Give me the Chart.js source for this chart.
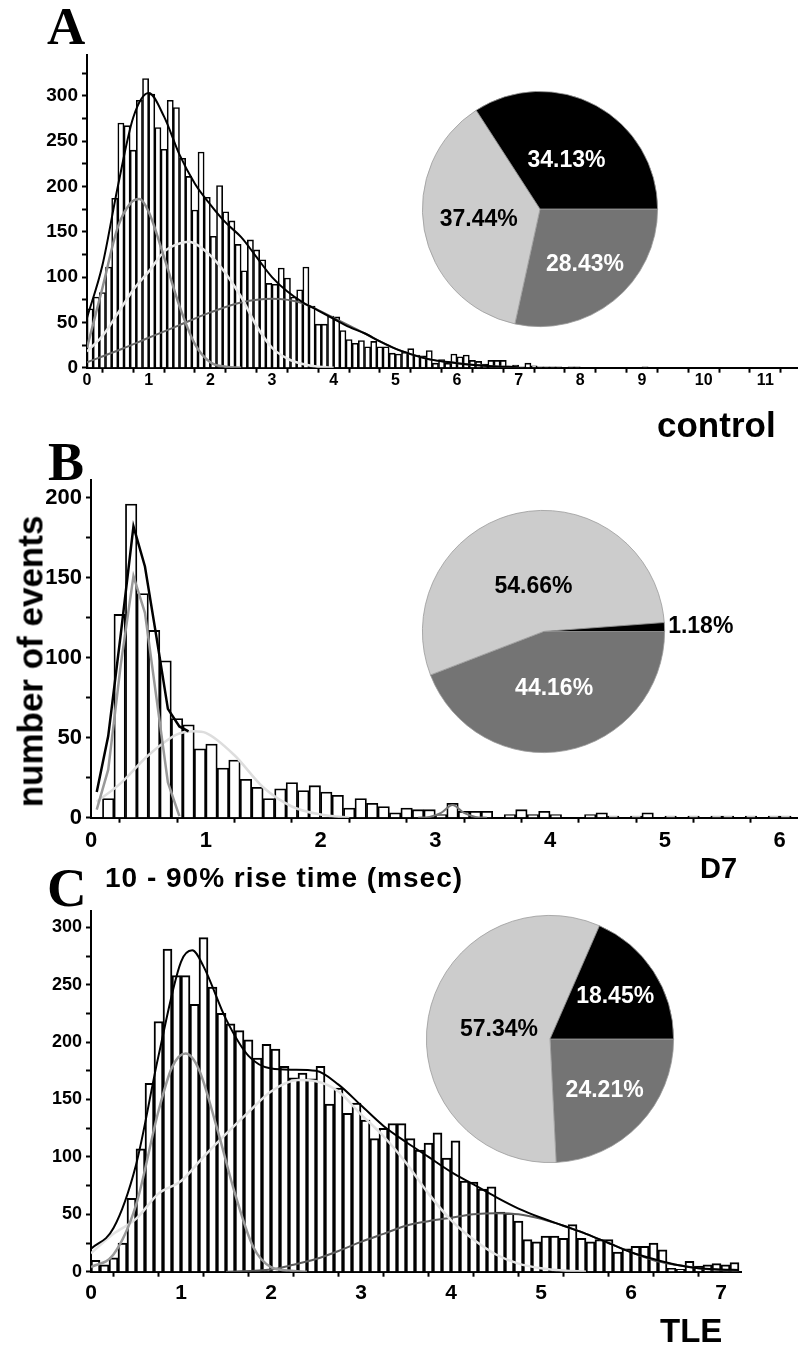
<!DOCTYPE html>
<html>
<head>
<meta charset="utf-8">
<script src="https://cdn.jsdelivr.net/npm/chart.js@4.4.1/dist/chart.umd.min.js"></script>
<style>
  html, body { margin: 0; padding: 0; background: #fff; }
  #page { position: relative; width: 798px; height: 1345px; overflow: hidden; }
  canvas { position: absolute; }
  .lbl { position: absolute; white-space: nowrap; line-height: 1; color: #000; font-weight: bold;
         font-family: "Liberation Sans", Arial, sans-serif; }
  .serif { font-family: "Liberation Serif", "Times New Roman", serif; }
</style>
</head>
<body>
<div id="page">
  <canvas id="histA"></canvas>
  <canvas id="histB"></canvas>
  <canvas id="histC"></canvas>
  <canvas id="pieA"></canvas>
  <canvas id="pieB"></canvas>
  <canvas id="pieC"></canvas>

  <div class="lbl serif" style="left:47px;top:0px;font-size:53px;">A</div>
  <div class="lbl serif" style="left:48px;top:435px;font-size:54px;">B</div>
  <div class="lbl serif" style="left:47px;top:860px;font-size:55px;">C</div>
  <div class="lbl" style="left:657px;top:407px;font-size:35px;">control</div>
  <div class="lbl" style="left:700px;top:854px;font-size:29px;">D7</div>
  <div class="lbl" style="left:660px;top:1314px;font-size:33px;">TLE</div>
  <div class="lbl" style="left:105px;top:864px;font-size:28px;letter-spacing:1px;">10 - 90% rise time (msec)</div>
  <div class="lbl" style="left:-120px;top:644px;width:300px;height:35px;line-height:35px;text-align:center;font-size:35px;transform:rotate(-90deg);">number of events</div>
</div>

<script>
// bin width of all three histograms (msec)
const BIN = 0.1;

// control: counts per 0.1 ms bin, starting at 0
const countsA = [65, 78, 83, 111, 187, 270, 267, 240, 295, 319,
  302, 265, 241, 295, 287, 231, 211, 174, 238, 188,
  145, 201, 172, 162, 136, 107, 141, 130, 119, 93,
  92, 110, 99, 78, 86, 111, 68, 48, 48, 57,
  56, 41, 31, 27, 30, 23, 29, 23, 23, 16,
  15, 17, 21, 14, 13, 19, 5, 9, 5, 15,
  12, 14, 8, 7, 4, 8, 8, 8, 1, 3,
  1, 5, 2, 1, 1, 1, 1, 0, 1, 1,
  0, 0, 0, 0, 0, 0, 0, 0, 0, 0, 1];

// D7
const countsB = [0, 12, 127, 196, 140, 117, 98, 62, 58, 43,
  46, 31, 36, 24, 19, 12, 18, 22, 17, 20,
  16, 14, 6, 12, 9, 7, 3, 6, 5, 5,
  2, 9, 4, 4, 4, 0, 2, 5, 2, 4,
  2, 0, 0, 2, 3, 1, 0, 1, 3, 0,
  1, 0, 1, 0, 1, 1, 0, 1, 0, 1, 1];

// TLE
const countsC = [10, 6, 12, 25, 64, 107, 164, 218, 281, 258,
  258, 233, 291, 248, 225, 216, 210, 202, 186, 198,
  194, 179, 169, 173, 168, 179, 146, 160, 138, 147,
  132, 116, 125, 129, 129, 116, 106, 112, 121, 99,
  114, 79, 78, 72, 74, 52, 51, 44, 28, 26,
  31, 31, 29, 41, 29, 26, 28, 28, 17, 20,
  22, 22, 25, 19, 3, 2, 9, 5, 6, 7,
  6, 8];

// fitted curves (x in msec, y in events)
const totalAx = [0, 0.25, 0.5, 0.75, 1.0, 1.25, 1.5, 1.75, 2.0, 2.25, 2.5, 2.75, 3.0, 3.25, 3.5, 3.75, 4.0, 4.25, 4.5, 4.75, 5.0, 5.25, 5.5, 5.75, 6.0, 6.5, 7.0];
const totalAy = [55, 113, 200, 276, 303, 277, 235, 203, 180, 160, 144, 122, 100, 84, 72, 63, 54, 45, 38, 29, 21, 15, 10, 7, 5, 2, 0.5];
const fastAx = [0, 0.25, 0.5, 0.7, 0.85, 1.0, 1.25, 1.5, 1.75, 2.0, 2.25, 2.5];
const fastAy = [22, 88, 155, 181, 186, 172, 122, 68, 26, 6, 1, 0];
const midAx = [0, 0.25, 0.5, 0.75, 1.0, 1.25, 1.5, 1.65, 1.75, 2.0, 2.25, 2.5, 2.75, 3.0, 3.25, 3.5, 3.75, 4.0];
const midAy = [18, 35, 60, 86, 106, 128, 137, 139, 137, 124, 104, 78, 46, 22, 10, 4, 1, 0];
const slowAx = [0, 0.5, 1.0, 1.5, 2.0, 2.5, 3.0, 3.5, 4.0, 4.5, 5.0, 5.5, 6.0, 6.5, 7.0];
const slowAy = [6, 19, 33, 47, 61, 72, 76, 71, 55, 38, 21, 10, 5, 2, 0.5];

const totalBx = [0.05, 0.15, 0.26, 0.37, 0.47, 0.57, 0.67, 0.77, 0.85];
const totalBy = [16, 51, 115, 182, 157, 113, 68, 57, 54];
const fastBx = [0.05, 0.15, 0.26, 0.37, 0.47, 0.57, 0.67, 0.77];
const fastBy = [5, 30, 96, 151, 128, 75, 22, 1];
const midBx = [0.05, 0.25, 0.5, 0.75, 0.9, 1.0, 1.25, 1.5, 1.75, 2.0, 2.25];
const midBy = [10, 21, 39, 52, 54, 53, 39, 19, 7, 2, 0];
const slowBx = [2.85, 2.95, 3.05, 3.15, 3.25, 3.35, 3.45];
const slowBy = [0, 0.5, 3, 8, 3, 0.5, 0];

const totalCx = [0, 0.25, 0.5, 0.75, 1.0, 1.125, 1.25, 1.5, 1.75, 2.0, 2.25, 2.5, 2.75, 3.0, 3.25, 3.5, 3.75, 4.0, 4.25, 4.5, 4.75, 5.0, 5.25, 5.5, 5.75, 6.0, 6.25, 6.5, 6.75, 7.0, 7.2];
const totalCy = [20, 38, 93, 188, 270, 280, 266, 220, 188, 177, 176, 175, 163, 145, 127, 113, 100, 87, 76, 65, 55, 47, 40, 33, 25, 17, 11, 6, 3, 2, 1.5];
const fastCx = [0, 0.25, 0.5, 0.75, 0.9, 1.05, 1.2, 1.4, 1.6, 1.8, 2.0, 2.2, 2.4];
const fastCy = [4, 15, 58, 140, 178, 190, 176, 125, 68, 22, 4, 1, 0];
const midCx = [0, 0.25, 0.5, 0.75, 1.0, 1.25, 1.5, 1.75, 2.0, 2.3, 2.5, 2.75, 3.0, 3.25, 3.5, 3.75, 4.0, 4.25, 4.5, 4.75, 5.0, 5.25, 5.5];
const midCy = [16, 33, 46, 68, 79, 100, 120, 139, 157, 167, 166, 157, 137, 118, 95, 68, 45, 28, 15, 7, 3, 1, 0];
const slowCx = [1.5, 2.0, 2.25, 2.5, 2.75, 3.0, 3.25, 3.5, 3.75, 4.0, 4.25, 4.5, 4.75, 5.0, 5.25, 5.5, 5.75, 6.0, 6.25, 6.5, 6.75, 7.0, 7.2];
const slowCy = [0, 2, 6, 11, 18, 26, 33, 40, 44, 47, 50, 51, 50, 46, 40, 33, 25, 17, 10, 6, 3, 1.5, 1];

// pie shares (%), order: dark gray, light gray, black
const pieAvals = [28.43, 37.44, 34.13];
const pieBvals = [44.16, 54.66, 1.18];
const pieCvals = [24.21, 57.34, 18.45];

const FONT = '"Liberation Sans", Arial, sans-serif';
const SLICE_COLORS = ['#747474', '#cccccc', '#000000'];

function bins(counts) { return counts.map((c, i) => ({ x: (i + 0.5) * BIN, y: c })); }
function pts(xs, ys) { return xs.map((x, i) => ({ x: x, y: ys[i] })); }
function onStep(v, step) { return Math.abs(v / step - Math.round(v / step)) < 1e-6; }
function stepTicks(max, step) {
  const t = [];
  for (let i = 0; i * step <= max + 1e-9; i++) t.push({ value: i * step });
  return t;
}

function place(el, left, top, w, h) {
  el.width = w; el.height = h;
  el.style.left = left + 'px'; el.style.top = top + 'px';
  el.style.width = w + 'px'; el.style.height = h + 'px';
}

function histogram(id, c) {
  const el = document.getElementById(id);
  place(el, 0, c.top, 798, c.h);
  const datasets = c.curves.map((cv, k) => ({
    type: 'line', data: cv.data, borderColor: cv.color, borderWidth: cv.width,
    pointRadius: 0, fill: false, tension: 0,
    cubicInterpolationMode: cv.straight ? 'default' : 'monotone', order: k + 1
  }));
  datasets.push({
    type: 'bar', data: c.bars, backgroundColor: '#ffffff', borderColor: '#000000',
    borderWidth: c.barBorder, barPercentage: 1, categoryPercentage: 1, order: 20
  });
  const axisGrid = { display: true, drawOnChartArea: false, drawTicks: true, tickLength: 5, tickColor: '#000', tickWidth: 2 };
  new Chart(el, {
    type: 'bar',
    data: { datasets: datasets },
    options: {
      responsive: false, animation: false, events: [],
      layout: { padding: { top: c.padTop, right: c.padRight, left: 0, bottom: 0 } },
      plugins: { legend: { display: false }, tooltip: { enabled: false } },
      scales: {
        x: {
          type: 'linear', min: 0, max: c.xMax, offset: false,
          border: { display: true, color: '#000', width: 2 },
          grid: axisGrid,
          ticks: {
            autoSkip: false, maxRotation: 0, padding: c.xPad, color: '#000',
            font: { family: FONT, weight: 'bold', size: c.xFont },
            callback: v => onStep(v, 1) ? String(Math.round(v)) : ''
          },
          afterBuildTicks: s => { s.ticks = stepTicks(c.xMax, 0.5); },
          afterFit: s => { s.height = c.xAxisH; }
        },
        y: {
          min: 0, max: c.yMax,
          border: { display: true, color: '#000', width: 2 },
          grid: axisGrid,
          ticks: {
            autoSkip: false, padding: 4, color: '#000',
            font: { family: FONT, weight: 'bold', size: c.yFont },
            callback: v => onStep(v, 50) ? String(v) : ''
          },
          afterBuildTicks: s => { s.ticks = stepTicks(c.yMax, 25); },
          afterFit: s => { s.width = c.yAxisW; }
        }
      }
    }
  });
}

const sliceLabels = {
  id: 'sliceLabels',
  afterDatasetsDraw(chart, args, opts) {
    const ctx = chart.ctx;
    const meta = chart.getDatasetMeta(0);
    const values = chart.data.datasets[0].data;
    ctx.save();
    ctx.font = 'bold ' + opts.size + 'px ' + FONT;
    ctx.textBaseline = 'middle';
    meta.data.forEach((arc, i) => {
      const p = arc.getProps(['x', 'y', 'startAngle', 'endAngle', 'outerRadius'], true);
      const mid = (p.startAngle + p.endAngle) / 2;
      const rr = p.outerRadius * opts.radius[i];
      ctx.fillStyle = opts.colors[i];
      ctx.textAlign = opts.align[i];
      ctx.fillText(values[i].toFixed(2) + '%', p.x + Math.cos(mid) * rr, p.y + Math.sin(mid) * rr);
    });
    ctx.restore();
  }
};

function pie(id, c) {
  const el = document.getElementById(id);
  const pad = 10, extra = 90;
  place(el, c.cx - c.r - pad, c.cy - c.r - pad, 2 * c.r + pad + extra, 2 * c.r + 2 * pad);
  new Chart(el, {
    type: 'pie',
    data: {
      labels: ['dark', 'light', 'black'],
      datasets: [{ data: c.values, backgroundColor: SLICE_COLORS, borderColor: '#9a9a9a', borderWidth: 0.8 }]
    },
    options: {
      responsive: false, animation: false, events: [], rotation: 90,
      layout: { padding: { left: pad, top: pad, bottom: pad, right: extra } },
      plugins: {
        legend: { display: false }, tooltip: { enabled: false },
        sliceLabels: { size: 23, colors: c.labelColors, radius: c.labelR, align: c.align }
      }
    },
    plugins: [sliceLabels]
  });
}

histogram('histA', {
  top: 0, h: 400, padTop: 55, padRight: 0, yAxisW: 87, xAxisH: 32.3,
  xMax: 11.53, yMax: 345, xFont: 16, yFont: 19, xPad: -2, barBorder: 1.6,
  bars: bins(countsA),
  curves: [
    { data: pts(totalAx, totalAy), color: '#000000', width: 2 },
    { data: pts(fastAx, fastAy), color: '#8e8e8e', width: 2.5 },
    { data: pts(midAx, midAy), color: '#e8e8e8', width: 2.5 },
    { data: pts(slowAx, slowAy), color: '#666666', width: 2 }
  ]
});

histogram('histB', {
  top: 420, h: 430, padTop: 60, padRight: 0, yAxisW: 91, xAxisH: 32.3,
  xMax: 6.16, yMax: 211, xFont: 22, yFont: 22, xPad: 5, barBorder: 1.8,
  bars: bins(countsB),
  curves: [
    { data: pts(totalBx, totalBy), color: '#000000', width: 2.5, straight: true },
    { data: pts(fastBx, fastBy), color: '#999999', width: 2.5, straight: true },
    { data: pts(midBx, midBy), color: '#dddddd', width: 2.5 },
    { data: pts(slowBx, slowBy), color: '#777777', width: 2 }
  ]
});

histogram('histC', {
  top: 850, h: 470, padTop: 60.7, padRight: 56.3, yAxisW: 91, xAxisH: 48.3,
  xMax: 7.23, yMax: 314.5, xFont: 21, yFont: 18, xPad: 4, barBorder: 2,
  bars: bins(countsC),
  curves: [
    { data: pts(totalCx, totalCy), color: '#000000', width: 2 },
    { data: pts(fastCx, fastCy), color: '#999999', width: 2.5 },
    { data: pts(midCx, midCy), color: '#e2e2e2', width: 2.5 },
    { data: pts(slowCx, slowCy), color: '#5a5a5a', width: 2 }
  ]
});

pie('pieA', { cx: 539.5, cy: 208.7, r: 118, values: pieAvals,
  labelColors: ['#fff', '#000', '#fff'], labelR: [0.61, 0.53, 0.47], align: ['center', 'center', 'center'] });
pie('pieB', { cx: 543.3, cy: 631.6, r: 121.7, values: pieBvals,
  labelColors: ['#fff', '#000', '#000'], labelR: [0.48, 0.38, 1.03], align: ['center', 'center', 'left'] });
pie('pieC', { cx: 550, cy: 1039, r: 124, values: pieCvals,
  labelColors: ['#fff', '#000', '#fff'], labelR: [0.61, 0.42, 0.63], align: ['center', 'center', 'center'] });
</script>
</body>
</html>
